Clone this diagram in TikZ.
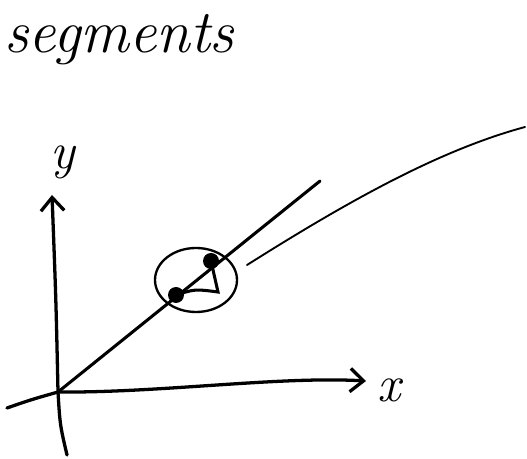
\documentclass[tikz,border=0pt]{standalone}
\usetikzlibrary{arrows.meta, positioning, calc, shapes.geometric}
\tikzset{
  axis/.style={line width=2.8pt, line cap=round, -{Straight Barb[length=4mm, width=7mm, line width=2.8pt]}},
  stroke/.style={line width=2.6pt, line cap=round},
  thinstroke/.style={line width=1.6pt, line cap=round},
  dot/.style={circle, fill, inner sep=0pt, minimum size=4.8mm},
  lens/.style={draw, ellipse, line width=2pt, minimum width=24.6mm, minimum height=19.2mm},
  axislabel/.style={font=\fontsize{44}{44}\selectfont\itshape, inner sep=0pt},
  title/.style={font=\fontsize{52}{52}\selectfont\itshape, inner sep=0pt}
}
\begin{document}
\begin{tikzpicture}[x=0.03cm, y=-0.03cm]
    \useasboundingbox (0,0) rectangle (527,459);

    % title
    \node[title, anchor=base west] (title) at (4,53) {segments};

    % axes
    \coordinate (o) at (58,392);
    \coordinate (xl) at (7,408);
    \coordinate (xtip) at (366,381);
    \coordinate (ybot) at (67,455);
    \coordinate (ytip) at (52,195);
    \node[axislabel] (xlab) at (389,390) {x};
    \node[axislabel] (ylab) at (63,162) {y};

    \draw[axis] (xl) .. controls (30,400) .. (o) .. controls (160,393) and (280,376) .. (xtip);
    \draw[axis] (ybot) .. controls (60,425) .. (o) .. controls (56,300) .. (ytip);

    % segment on the line, zoomed
    \coordinate (lend) at (320,181);
    \draw[stroke] (o) -- (lend);
    \node[lens] (lens) at (196,280) {};
    \node[dot] (p1) at (176,295) {};
    \node[dot] (p2) at (211,261) {};
    \coordinate (corner) at (218,292);
    \draw[stroke] (p1.center) .. controls (195,289) .. (corner) -- (p2.center);

    % curve
    \coordinate (cstart) at (247,265);
    \coordinate (cend) at (525,127);
    \draw[thinstroke] (cstart) .. controls (350,200) and (440,150) .. (cend);
\end{tikzpicture}
\end{document}
